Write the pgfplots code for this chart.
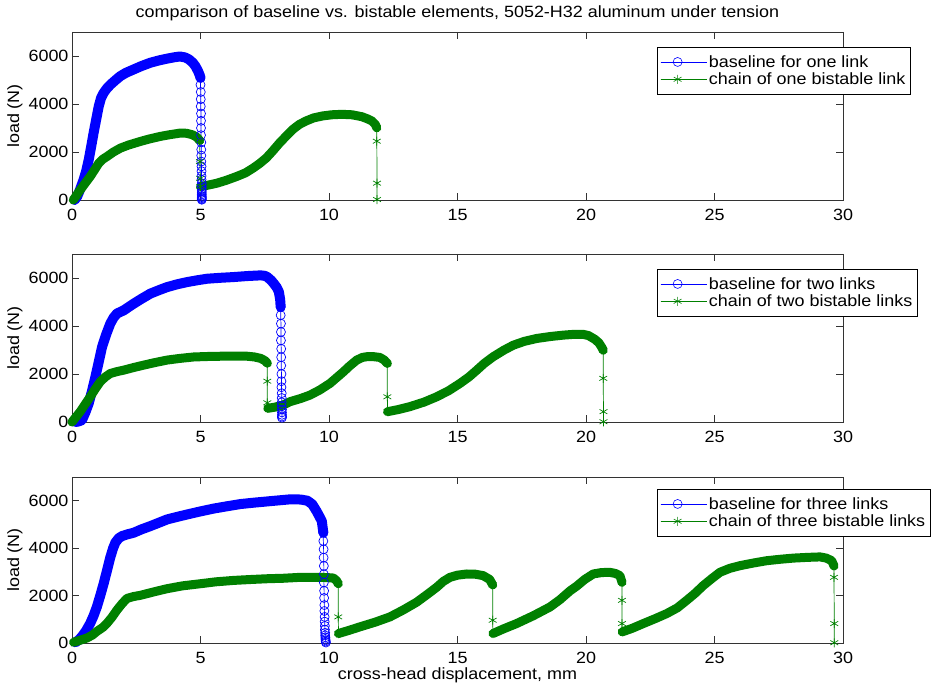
\documentclass[border=0pt]{standalone}
\usepackage{fontspec}
\setmainfont[FakeStretch=1.1]{Liberation Sans}
\usepackage{pgfplots}
\pgfplotsset{compat=1.18}
\definecolor{mgreen}{RGB}{0,128,0}
\newcommand\fs{\fontsize{16.3}{19.5}\selectfont}
\pgfplotsset{
  panel/.style={
    scale only axis, width=771pt, height=168pt,
    xmin=0, xmax=30, ymin=0, ymax=7000,
    xtick={0,5,...,30}, ytick={0,2000,4000,6000},
    tick align=inside, major tick length=7pt,
    axis line style={line width=0.8pt, black!80},
    every tick/.style={black!80, line width=0.8pt},
    scaled y ticks=false,
    /pgf/number format/1000 sep={},
    /pgf/number format/assume math mode=true,
    ticklabel style={font=\fs},
    xticklabel style={anchor=base, yshift=-21pt},
    ylabel={load (N)},
    ylabel style={at={(axis description cs:-0.074,0.5)}, anchor=center, font=\fs},
    clip=false,
    legend cell align=left,
    legend style={anchor=north west, draw=black, line width=0.6pt, font=\fs,
      inner xsep=3pt, inner ysep=6pt, row sep=0pt},
    legend image code/.code={\draw[mark repeat=2,mark phase=2] plot coordinates {(0pt,0pt) (17pt,0pt) (35pt,0pt)};
      \path (0pt,0pt) -- (46pt,0pt);},
  },
  bband/.style={blue, line width=10pt, line join=round, line cap=round, forget plot},
  gband/.style={mgreen, line width=9pt, line join=round, line cap=round, forget plot},
  bdrop/.style={blue, line width=0.7pt, mark=o, mark size=4.5pt, forget plot},
  gdrop/.style={mgreen, line width=0.7pt, mark=asterisk, mark size=4.5pt, forget plot},
  every axis title/.style={at={(0.5,1)}, anchor=center, yshift=19pt, font=\fs},
}
\begin{document}
\begin{tikzpicture}
\path[use as bounding box] (0,0) rectangle (932pt,693pt);

% ---------- one link ----------
\begin{axis}[panel, at={(72pt,493pt)}, anchor=south west,
  title={comparison of baseline vs. bistable elements, 5052-H32 aluminum under tension},
  legend style={at={(0.7588,0.9107)}}]
\addplot[bband] coordinates {(0.1,0) (0.2,140) (0.3,400) (0.45,840) (0.55,1200) (0.65,1670) (0.75,2250) (0.84,2790) (0.94,3350) (1.04,3900) (1.13,4250) (1.23,4460) (1.35,4640) (1.5,4810) (1.7,5000) (1.88,5160) (2.1,5300) (2.4,5440) (2.7,5580) (3.05,5720) (3.4,5820) (3.7,5890) (4.0,5950) (4.2,5980) (4.4,5940) (4.55,5860) (4.7,5720) (4.8,5580) (4.9,5380) (4.97,5200) (5.0,5090)};
\addplot[bdrop] coordinates {(5.0,5090) (5.0,4800) (5.01,4500) (5.01,4200) (5.01,3900) (5.02,3600) (5.02,3300) (5.02,3000) (5.02,2700) (5.03,2400) (5.03,2100) (5.03,1850) (5.03,1600) (5.04,1400) (5.04,1200) (5.04,1000) (5.04,850) (5.05,700) (5.05,580) (5.05,470) (5.05,380) (5.05,300) (5.05,230) (5.05,170) (5.05,120) (5.05,80) (5.05,40) (5.05,10)};
\addplot[gband] coordinates {(0.05,0) (0.15,150) (0.32,420) (0.5,680) (0.71,980) (0.88,1260) (1.04,1530) (1.2,1700) (1.36,1810) (1.6,1990) (1.88,2160) (2.2,2290) (2.66,2440) (3.0,2540) (3.44,2650) (3.8,2720) (4.22,2790) (4.45,2780) (4.68,2720) (4.85,2620) (4.97,2480)};
\addplot[gdrop] coordinates {(4.97,2480) (4.98,1600) (4.99,900) (5.0,560)};
\addplot[gband] coordinates {(5.0,560) (5.3,620) (5.64,700) (6.0,820) (6.41,980) (6.75,1130) (7.05,1330) (7.3,1520) (7.56,1750) (7.8,2030) (8.08,2380) (8.35,2680) (8.59,2940) (8.85,3150) (9.1,3290) (9.4,3420) (9.74,3500) (10.1,3550) (10.5,3570) (10.9,3550) (11.28,3470) (11.5,3380) (11.67,3290) (11.8,3150) (11.86,3010)};
\addplot[gdrop] coordinates {(11.86,3010) (11.86,2450) (11.87,700) (11.87,20)};
\addlegendimage{blue, line width=0.6pt, mark=o, mark size=4.5pt}
\addlegendentry{baseline for one link}
\addlegendimage{mgreen, line width=0.6pt, mark=asterisk, mark size=4.5pt}
\addlegendentry{chain of one bistable link}
\end{axis}

% ---------- two links ----------
\begin{axis}[panel, at={(72pt,271pt)}, anchor=south west,
  legend style={at={(0.7588,0.9107)}}]
\addplot[bband] coordinates {(0.13,0) (0.25,20) (0.39,80) (0.52,400) (0.65,775) (0.78,1300) (0.91,1880) (1.04,2500) (1.17,3130) (1.33,3650) (1.49,4100) (1.62,4350) (1.75,4520) (2.01,4650) (2.4,4930) (2.7,5130) (3.05,5350) (3.4,5500) (3.7,5620) (4.1,5740) (4.48,5830) (4.9,5910) (5.26,5970) (5.8,6010) (6.3,6040) (6.8,6080) (7.34,6110) (7.5,6090) (7.6,6040) (7.75,5900) (7.86,5760) (7.97,5600) (8.05,5420) (8.1,5100) (8.12,4790)};
\addplot[bdrop] coordinates {(8.12,4790) (8.12,4450) (8.13,4100) (8.13,3750) (8.13,3400) (8.14,3050) (8.14,2700) (8.14,2350) (8.15,2000) (8.15,1700) (8.15,1450) (8.16,1200) (8.16,1000) (8.16,820) (8.16,660) (8.17,520) (8.17,400) (8.17,300) (8.17,230) (8.17,180)};
\addplot[gband] coordinates {(0,0) (0.15,200) (0.32,430) (0.5,720) (0.71,1050) (0.9,1370) (1.1,1680) (1.3,1880) (1.49,2020) (1.75,2100) (2.01,2160) (2.4,2270) (2.79,2370) (3.2,2470) (3.7,2580) (4.2,2650) (4.74,2710) (5.3,2730) (5.78,2740) (6.3,2745) (6.82,2740) (7.1,2710) (7.34,2650) (7.5,2560) (7.6,2450)};
\addplot[gdrop] coordinates {(7.6,2450) (7.6,1700) (7.6,800) (7.62,570)};
\addplot[gband] coordinates {(7.62,570) (7.9,620) (8.2,700) (8.48,845) (8.9,980) (9.26,1120) (9.65,1340) (10.04,1610) (10.3,1850) (10.56,2090) (10.8,2330) (11.08,2580) (11.3,2690) (11.47,2720) (11.75,2720) (11.98,2690) (12.15,2580) (12.27,2440)};
\addplot[gdrop] coordinates {(12.27,2440) (12.27,1050) (12.28,430)};
\addplot[gband] coordinates {(12.28,430) (12.7,520) (13.15,640) (13.7,830) (14.19,1050) (14.65,1300) (15.1,1610) (15.45,1880) (15.75,2160) (16.05,2450) (16.39,2720) (16.8,2990) (17.17,3200) (17.6,3360) (18.08,3480) (18.6,3560) (19.12,3620) (19.5,3650) (19.9,3650) (20.1,3600) (20.35,3440) (20.5,3300) (20.62,3100) (20.67,2990)};
\addplot[gdrop] coordinates {(20.67,2990) (20.67,1820) (20.68,430) (20.68,10)};
\addlegendimage{blue, line width=0.6pt, mark=o, mark size=4.5pt}
\addlegendentry{baseline for two links}
\addlegendimage{mgreen, line width=0.6pt, mark=asterisk, mark size=4.5pt}
\addlegendentry{chain of two bistable links}
\end{axis}

% ---------- three links ----------
\begin{axis}[panel, at={(72pt,50pt)}, anchor=south west, height=166pt,
  legend style={at={(0.7588,0.9277)}},
  xlabel={cross-head displacement, mm},
  xlabel style={at={(axis description cs:0.5,-0.193)}, anchor=center, font=\fs}]
\addplot[bband] coordinates {(0.13,30) (0.26,120) (0.39,280) (0.55,520) (0.71,830) (0.84,1150) (0.97,1530) (1.1,2000) (1.23,2500) (1.36,3050) (1.49,3610) (1.6,4000) (1.69,4240) (1.82,4420) (1.95,4510) (2.15,4580) (2.4,4650) (2.7,4790) (3.05,4930) (3.4,5080) (3.7,5210) (4.1,5320) (4.48,5420) (5.0,5550) (5.52,5670) (6.0,5760) (6.56,5860) (7.1,5920) (7.6,5970) (8.0,6010) (8.51,6060) (8.9,6050) (9.16,6000) (9.35,5850) (9.52,5550) (9.62,5350) (9.72,5140) (9.78,4650)};
\addplot[bdrop] coordinates {(9.78,4650) (9.78,4300) (9.79,3950) (9.79,3600) (9.8,3250) (9.8,2900) (9.8,2550) (9.81,2200) (9.81,1900) (9.82,1600) (9.82,1350) (9.83,1100) (9.83,900) (9.84,720) (9.84,560) (9.85,430) (9.85,320) (9.86,240) (9.86,170) (9.87,110) (9.87,60) (9.88,20)};
\addplot[gband] coordinates {(0.06,30) (0.3,110) (0.58,210) (0.8,340) (0.97,490) (1.2,660) (1.36,830) (1.55,1080) (1.75,1390) (1.95,1660) (2.14,1880) (2.4,1960) (2.66,2010) (3.2,2160) (3.7,2290) (4.3,2410) (5.0,2500) (5.6,2580) (6.3,2640) (7.0,2680) (7.6,2710) (8.22,2730) (8.9,2770) (9.52,2770) (9.9,2760) (10.17,2740) (10.3,2620) (10.36,2500)};
\addplot[gdrop] coordinates {(10.36,2500) (10.36,1100) (10.37,400)};
\addplot[gband] coordinates {(10.37,400) (10.8,540) (11.2,680) (11.8,880) (12.37,1100) (12.9,1400) (13.41,1720) (13.8,2030) (14.19,2350) (14.45,2600) (14.71,2770) (15.0,2860) (15.36,2910) (15.7,2900) (16.0,2840) (16.25,2680) (16.37,2450)};
\addplot[gdrop] coordinates {(16.37,2450) (16.37,960) (16.38,400)};
\addplot[gband] coordinates {(16.38,400) (16.8,600) (17.3,820) (17.95,1150) (18.6,1520) (18.99,1830) (19.38,2200) (19.64,2400) (19.95,2680) (20.28,2910) (20.6,2970) (20.93,2980) (21.15,2930) (21.32,2840) (21.4,2560)};
\addplot[gdrop] coordinates {(21.4,2560) (21.4,1800) (21.4,820) (21.41,470)};
\addplot[gband] coordinates {(21.41,470) (21.8,620) (22.23,820) (22.7,1030) (23.14,1240) (23.55,1480) (23.92,1800) (24.25,2100) (24.56,2420) (24.9,2720) (25.21,2980) (25.6,3150) (25.99,3260) (26.5,3370) (27.03,3470) (27.55,3530) (28.07,3580) (28.6,3610) (29.11,3630) (29.35,3580) (29.56,3470) (29.65,3250)};
\addplot[gdrop] coordinates {(29.65,3250) (29.65,2770) (29.66,820) (29.66,10)};
\addlegendimage{blue, line width=0.6pt, mark=o, mark size=4.5pt}
\addlegendentry{baseline for three links}
\addlegendimage{mgreen, line width=0.6pt, mark=asterisk, mark size=4.5pt}
\addlegendentry{chain of three bistable links}
\end{axis}
\end{tikzpicture}
\end{document}
